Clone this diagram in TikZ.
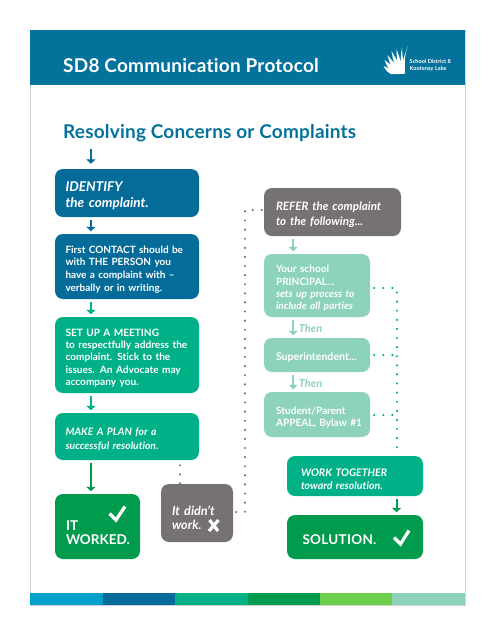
\documentclass[tikz,border=0pt]{standalone}
\usepackage{fontspec}
\setmainfont{Lato}[Ligatures={TeX,NoCommon}]
\usetikzlibrary{calc,arrows.meta}
\definecolor{hdr}{HTML}{04739C}
\definecolor{dblue}{HTML}{056C99}
\definecolor{grn}{HTML}{00B086}
\definecolor{dgrn}{HTML}{009B4D}
\definecolor{lteal}{HTML}{8CD3B9}
\definecolor{gry}{HTML}{767174}
\definecolor{sblue}{HTML}{00A0CB}
\definecolor{lgrn}{HTML}{6CD04A}
\newcommand{\fsz}[2]{\bfseries\fontsize{#1}{#2}\selectfont}
\tikzset{
 x=1pt,y=-1pt,
 flow/.style={rounded corners=8pt,text=white,font=\fsz{10.1}{12.4},align=left,inner ysep=0pt,anchor=center},
 arr/.style={line width=2pt,-{Triangle[width=9pt,length=4.5pt]},shorten <=3pt,shorten >=2.5pt},
 dots/.style={line width=2.4pt,line cap=round,dash pattern=on 0pt off 9.1pt},
 tick/.style={line width=3.2pt,white},
 thenlab/.style={anchor=west,lteal,inner sep=0pt,font=\bfseries\itshape\fontsize{11}{12}\selectfont,xshift=5.5pt,yshift=-1pt},
}
\newcommand{\bx}[8]{%
 \pgfmathsetmacro{\bxw}{#4-#2}\pgfmathsetmacro{\bxh}{#5-#3}\pgfmathsetmacro{\bxcx}{(#2+#4)/2}\pgfmathsetmacro{\bxcy}{(#3+#5)/2}\pgfmathsetmacro{\bxt}{#4-#2-2*#7}%
 \node[flow,#6,minimum width=\bxw pt,minimum height=\bxh pt,inner xsep=#7pt,text width=\bxt pt] (#1) at (\bxcx,\bxcy) {\rule{0pt}{\dimexpr0.73em+6pt\relax}#8};%
}
\begin{document}
\begin{tikzpicture}
\useasboundingbox (0,0) rectangle (495,641);
\fill[white] (0,0) rectangle (495,641);
\draw[black!18,line width=1pt] (30,30) rectangle (465,605);
\fill[hdr] (30,30) rectangle (465,85);
\foreach \a/\b/\c in {30/103/sblue,103/175/dblue,175/248/grn,248/320/dgrn,320/392/lgrn,392/465/lteal}
  \fill[\c] (\a,593) rectangle (\b,605);
\node[anchor=west,white,font=\bfseries\fontsize{19}{21}\selectfont\addfontfeature{LetterSpace=1.2},inner sep=0pt] (title) at (63,66) {SD8 Communication Protocol};
\node[anchor=west,hdr,font=\bfseries\fontsize{19}{21}\selectfont\addfontfeature{LetterSpace=1.0},inner sep=0pt] (sub) at (63,133) {Resolving Concerns or Complaints};
% logo
\foreach \tx/\ty/\cxa/\cya in {383.5/66/390/71,384.5/60/390/67,387.5/55/392/64,391.5/51/395/61,396.5/49/398/59,402/47.5/401/58,408/46/403/58}{
  \fill[white] (405,73.5) .. controls ({\cxa-1},{\cya+4}) .. (\tx,\ty) .. controls ({\cxa+1.5},{\cya-1.5}) .. (405,73.5);
}
\node[anchor=west,white,align=left,inner sep=0pt,font=\fsz{5.6}{6.6}] (logo) at (409.5,65.5) {School District 8\\Kootenay Lake};
% boxes
\bx{identify}{55}{169}{199}{217}{fill=dblue,font=\fsz{13.5}{16}\itshape}{10.5}{IDENTIFY\\the complaint.}
\bx{contact}{55}{234}{199}{299}{fill=dblue,font=\fsz{10}{12.6}}{10.5}{First CONTACT should be\\with THE PERSON you\\have a complaint with \textendash\\verbally or in writing.}
\bx{meeting}{55}{317}{199}{393}{fill=grn}{10.5}{SET UP A MEETING\\to respectfully address the\\complaint. Stick to the\\issues. An Advocate may\\accompany you.}
\bx{plan}{55}{413}{199}{460}{fill=grn,font=\fsz{10.3}{14}\itshape}{10.5}{MAKE A PLAN for a\\successful resolution.}
\bx{worked}{55}{494}{140}{559}{fill=dgrn,font=\fsz{13.5}{14}}{11}{\rule{0pt}{23pt}IT\\WORKED.}
\bx{nowork}{161}{484}{233}{542}{fill=gry,font=\fsz{12.6}{14}\itshape}{11}{\rule{0pt}{19.2pt}It didn’t\\work.}
\bx{refer}{264}{188}{401}{236}{fill=gry,font=\fsz{11.6}{15}\itshape}{12}{REFER the complaint\\to the following...}
\bx{principal}{264}{254}{370}{317}{fill=lteal}{12}{Your school\\PRINCIPAL...\\{\itshape sets up process to\\include all parties}}
\bx{super}{264}{338}{370}{372}{fill=lteal,font=\fsz{10.6}{12.4}}{12}{Superintendent...}
\bx{appeal}{264}{392}{370}{437}{fill=lteal}{12}{Student/Parent\\\mbox{APPEAL, Bylaw \#1}}
\bx{together}{287}{456}{423}{496}{fill=grn,font=\fsz{10.5}{12.5}\itshape}{14}{WORK TOGETHER\\toward resolution.}
\bx{solution}{287}{515}{423}{559}{fill=dgrn,font=\fsz{13.5}{15}\addfontfeature{LetterSpace=2}}{15.5}{SOLUTION.}
% marks
\draw[tick] (109.5,513.5) -- (116,520) -- (125,506.5);
\draw[tick] (394,537.5) -- (400.5,544) -- (409,530.5);
\draw[line width=3.2pt,white] (209.5,520) -- (218,531) (218.5,520) -- (209,531);
% arrows
\coordinate (a0) at ($(identify.north west)!.25!(identify.north east)$);
\coordinate (a00) at (a0 |- sub.south);
\draw[arr,dblue,shorten <=7pt,shorten >=5pt] (a00) -- (a0);
\coordinate (a1) at ($(identify.south west)!.25!(identify.south east)$);
\draw[arr,dblue] (a1) -- (a1 |- contact.north);
\coordinate (a2) at ($(contact.south west)!.25!(contact.south east)$);
\draw[arr,grn] (a2) -- (a2 |- meeting.north);
\coordinate (a3) at ($(meeting.south west)!.25!(meeting.south east)$);
\draw[arr,grn] (a3) -- (a3 |- plan.north);
\coordinate (a4) at ($(plan.south west)!.25!(plan.south east)$);
\draw[arr,dgrn] (a4) -- (a4 |- worked.north);
\coordinate (r1) at ($(refer.south west)!.214!(refer.south east)$);
\draw[arr,lteal] (r1) -- (r1 |- principal.north);
\coordinate (r2) at (r1 |- principal.south);
\draw[arr,lteal] (r2) -- (r2 |- super.north);
\coordinate (r3) at (r1 |- super.south);
\draw[arr,lteal] (r3) -- (r3 |- appeal.north);
\coordinate (s1) at ($(together.south west)!.805!(together.south east)$);
\draw[arr,dgrn] (s1) -- (s1 |- solution.north);
\path ($(r2)!.5!(r2 |- super.north)$) node[thenlab] (then1) {Then};
\path ($(r3)!.5!(r3 |- appeal.north)$) node[thenlab] (then2) {Then};
% dotted
\coordinate (d1) at (180,465);
\coordinate (d2) at (245,512);
\coordinate (d3) at (245,210);
\draw[dots,gry] (plan.south -| d1) ++(0,5) -- (nowork.north -| d1);
\draw[dots,gry] (nowork.east |- d2) ++(3,0) -- (d2) -- (d3) -- (refer.west |- d3);
\coordinate (g0) at (397,288);
\coordinate (g1) at (397,355);
\coordinate (g2) at (397,415);
\draw[dots,grn] (principal.east |- g0) ++(4,0) -- (g0) -- (g0 |- together.north);
\draw[dots,grn] (super.east |- g1) ++(4,0) -- (g1);
\draw[dots,grn] (appeal.east |- g2) ++(4,0) -- (g2);
\end{tikzpicture}
\end{document}
